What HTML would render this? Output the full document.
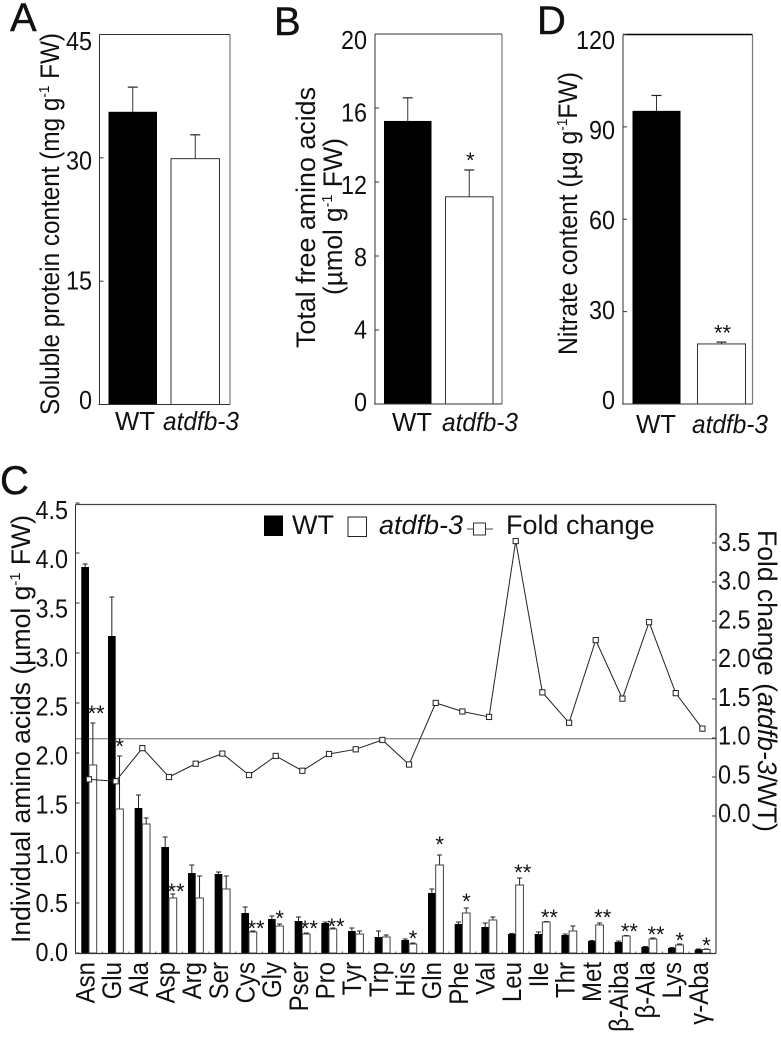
<!DOCTYPE html>
<html lang="en">
<head>
<meta charset="utf-8">
<title>Amino acid and nitrate content in WT and atdfb-3</title>
<style>
html,body{margin:0;padding:0;background:#fff;}
svg{display:block;}
text{font-family:"Liberation Sans",sans-serif;fill:#111;}
.tick{font-size:26px;}
.title{font-size:27px;}
.letter{font-size:40px;stroke:#111;stroke-width:.4px;}
.cat{font-size:27px;}
.xl{font-size:26px;text-anchor:middle;}
.leg{font-size:27px;}
.star{font-size:22px;text-anchor:middle;}
</style>
</head>
<body>
<svg id="fig" xmlns="http://www.w3.org/2000/svg" width="781" height="1037" viewBox="0 0 781 1037">
  <rect x="0" y="0" width="781" height="1037" fill="#fff"/>

  <text class="letter" x="10" y="31">A</text>
  <text class="letter" x="274" y="35">B</text>
  <text class="letter" x="537" y="34">D</text>
  <text class="letter" x="0" y="494">C</text>

  <text class="title" transform="translate(59,415) rotate(-90)" textLength="382" lengthAdjust="spacingAndGlyphs">Soluble protein content (mg g<tspan font-size="15" dy="-10">-1</tspan><tspan dy="10"> FW)</tspan></text>
  <text class="title" transform="translate(315,348) rotate(-90)" textLength="261" lengthAdjust="spacingAndGlyphs">Total free amino acids</text>
  <text class="title" transform="translate(342,295) rotate(-90)" textLength="157" lengthAdjust="spacingAndGlyphs">(µmol g<tspan font-size="15" dy="-10">-1</tspan><tspan dy="10"> FW)</tspan></text>
  <text class="title" transform="translate(577,355) rotate(-90)" textLength="283" lengthAdjust="spacingAndGlyphs">Nitrate content (µg g<tspan font-size="15" dy="-10">-1</tspan><tspan dy="10">FW)</tspan></text>
  <text class="title" transform="translate(30,943) rotate(-90)" textLength="428" lengthAdjust="spacingAndGlyphs">Individual amino acids (µmol g<tspan font-size="15" dy="-10">-1</tspan><tspan dy="10"> FW)</tspan></text>
  <text class="title" transform="translate(758,530) rotate(90)" textLength="302" lengthAdjust="spacingAndGlyphs">Fold change (<tspan font-style="italic">atdfb-3</tspan>/WT)</text>

  <text class="xl" x="135" y="430" textLength="40" lengthAdjust="spacingAndGlyphs">WT</text>
  <text class="xl" x="201" y="430" font-style="italic" textLength="76" lengthAdjust="spacingAndGlyphs">atdfb-3</text>
  <text class="xl" x="412" y="431" textLength="40" lengthAdjust="spacingAndGlyphs">WT</text>
  <text class="xl" x="480" y="431" font-style="italic" textLength="76" lengthAdjust="spacingAndGlyphs">atdfb-3</text>
  <text class="xl" x="656" y="433" textLength="40" lengthAdjust="spacingAndGlyphs">WT</text>
  <text class="xl" x="730" y="433" font-style="italic" textLength="76" lengthAdjust="spacingAndGlyphs">atdfb-3</text>

  <g>
    <rect x="264" y="515.5" width="19" height="20.5" fill="#000"/>
    <text class="leg" x="292" y="534">WT</text>
    <rect x="348" y="517" width="18.5" height="19.5" fill="#fff" stroke="#222" stroke-width="1"/>
    <text class="leg" x="379" y="534" font-style="italic">atdfb-3</text>
    <line x1="467" y1="529" x2="493" y2="529" stroke="#444" stroke-width="1"/>
    <rect x="473.5" y="523" width="12" height="12" fill="#fff" stroke="#333" stroke-width="1"/>
    <text class="leg" x="506" y="534">Fold change</text>
  </g>

  <g id="panelA"></g>
  <g id="panelB"></g>
  <g id="panelD"></g>
  <g id="panelC"></g>
</svg>

<script>
// Panel A: soluble protein
const panelAValues = [35.6, 29.9];
const panelAErrorTops = [38.6, 32.8];
const panelATicks = [0, 15, 30, 45];
const panelAStars = ['', ''];
const panelAStarLevels = [0, 0];

// Panel B: total free amino acids
const panelBValues = [15.3, 11.2];
const panelBErrorTops = [16.55, 12.65];
const panelBTicks = [0, 4, 8, 12, 16, 20];
const panelBStars = ['', '*'];
const panelBStarLevels = [0, 13.4];

// Panel D: nitrate
const panelDValues = [95.2, 19.5];
const panelDErrorTops = [100.2, 20.1];
const panelDTicks = [0, 30, 60, 90, 120];
const panelDStars = ['', '**'];
const panelDStarLevels = [0, 24.6];

// Panel C: individual amino acids
const aminoAcids = ['Asn','Glu','Ala','Asp','Arg','Ser','Cys','Gly','Pser','Pro','Tyr','Trp','His','Gln','Phe','Val','Leu','Ile','Thr','Met','β-Aiba','β-Ala','Lys','γ-Aba'];
const wtValues = [3.86,3.17,1.45,1.06,0.80,0.79,0.40,0.34,0.32,0.30,0.22,0.16,0.13,0.60,0.29,0.26,0.19,0.19,0.18,0.12,0.11,0.06,0.05,0.035];
const wtErrorTops = [3.89,3.56,1.58,1.16,0.88,0.81,0.46,0.37,0.36,0.31,0.25,0.22,0.14,0.64,0.31,0.30,0.195,0.21,0.19,0.125,0.12,0.065,0.055,0.04];
const mutantValues = [1.88,1.44,1.29,0.55,0.55,0.64,0.21,0.27,0.19,0.24,0.19,0.16,0.09,0.88,0.40,0.33,0.68,0.31,0.22,0.28,0.17,0.14,0.08,0.035];
const mutantErrorTops = [2.30,1.97,1.35,0.59,0.77,0.77,0.22,0.29,0.20,0.25,0.22,0.18,0.10,0.98,0.45,0.36,0.75,0.315,0.27,0.30,0.175,0.15,0.09,0.04];
const foldChange = [0.47,0.445,0.87,0.50,0.67,0.80,0.525,0.77,0.58,0.795,0.855,0.975,0.66,1.45,1.34,1.27,3.525,1.585,1.195,2.255,1.505,2.485,1.575,1.12];
const significance = ['**','*','','**','','','**','*','**','**','','','*','*','*','','**','**','','**','**','**','*','*'];
const starLevels = [2.44,2.11,0,0.66,0,0,0.29,0.39,0.29,0.31,0,0,0.19,1.13,0.56,0,0.85,0.40,0,0.40,0.26,0.23,0.17,0.12];
const leftTicks = [0,0.5,1,1.5,2,2.5,3,3.5,4,4.5];
const rightTicks = [0,0.5,1,1.5,2,2.5,3,3.5];
const foldReference = [0.99];

const SVGNS = 'http://www.w3.org/2000/svg';
function make(tag, attrs, parent, text) {
  const el = document.createElementNS(SVGNS, tag);
  for (const k in attrs) el.setAttribute(k, attrs[k]);
  if (text !== undefined) el.textContent = text;
  parent.appendChild(el);
  return el;
}
function segment(parent, x1, y1, x2, y2, color, width) {
  return make('line', {x1:x1, y1:y1, x2:x2, y2:y2, stroke:color, 'stroke-width':width}, parent);
}
function fmt(v) { return v.toFixed(1); }

function drawPanel(p) {
  const g = document.getElementById(p.id);
  const y = v => p.bottom - (v - 0) * (p.bottom - p.top) / p.max;
  const labelY = v => p.labelZero - v * p.labelStep + 9;
  const barX = i => p.firstBar + i * p.barStep;

  let el = make('rect', {x:p.left, y:p.top, width:p.right - p.left, height:p.bottom - p.top, fill:'#fff', stroke:'none'}, g);
  
  

  p.values.forEach((v, i) => {
    const cx = barX(i) + p.barW / 2;
    const stem = segment(g, cx, y(v), cx, y(p.errs[i]), '#333', 1);
    
    
    const cap = segment(g, cx - 5, y(p.errs[i]), cx + 5, y(p.errs[i]), '#222', 1.2);
    
    
    const bar = i === 0
      ? make('rect', {x:barX(i), y:y(v), width:p.barW, height:y(0) - y(v), fill:'#000'}, g)
      : make('rect', {x:barX(i), y:y(v), width:p.barW, height:y(0) - y(v), fill:'#fff', stroke:'#333', 'stroke-width':1}, g);
    
    
    if (p.stars[i]) {
      const star = make('text', {class:'star', x:cx + 1, y:y(p.starLevels[i]) + 12}, g, p.stars[i]);
      
      
    }
  });

  const sTop = segment(g, p.left, p.top, p.right, p.top, p.topColor, p.topWidth);
  
  
  const sRight = segment(g, p.right, p.top, p.right, p.bottom, '#777', 1.2);
  
  
  const sLeft = segment(g, p.left, p.top, p.left, p.bottom, '#333', 1);
  
  
  const sBottom = segment(g, p.left - 1, p.bottom, p.right, p.bottom, '#333', 1);
  
  

  p.ticks.forEach(t => {
    const tk = segment(g, p.left, y(t), p.left + 4, y(t), '#333', 1);
    
    
    const lb = make('text', {class:'tick', transform:'translate(' + p.labelX + ',' + labelY(t) + ') scale(.9,1)', 'text-anchor':'end'}, g, String(t));
    
    
  });
}

drawPanel({id:'panelA', name:'panel-a', values:panelAValues, errs:panelAErrorTops, ticks:panelATicks, stars:panelAStars, starLevels:panelAStarLevels,
  max:45, left:99.5, right:230, top:34.5, bottom:404.5, firstBar:108.5, barStep:62.5, barW:48.5, labelX:92, labelZero:400, labelStep:7.98, topColor:'#333', topWidth:1});
drawPanel({id:'panelB', name:'panel-b', values:panelBValues, errs:panelBErrorTops, ticks:panelBTicks, stars:panelBStars, starLevels:panelBStarLevels,
  max:20, left:375, right:502, top:34, bottom:404, firstBar:384, barStep:61.5, barW:47.5, labelX:367, labelZero:402, labelStep:18.1, topColor:'#333', topWidth:1});
drawPanel({id:'panelD', name:'panel-d', values:panelDValues, errs:panelDErrorTops, ticks:panelDTicks, stars:panelDStars, starLevels:panelDStarLevels,
  max:120, left:623, right:752.5, top:34.5, bottom:404, firstBar:632.5, barStep:65, barW:48, labelX:615, labelZero:400, labelStep:3, topColor:'#000', topWidth:1.6});

// Panel C
(function () {
  const g = document.getElementById('panelC');
  const plotLeft = 75.5, plotRight = 716, plotTop = 504.5, plotBottom = 953.5;
  const yLeft = v => 953 - v * 100;
  const yRight = v => 816 - v * 78;
  const labelLeftY = v => 952 - v * 98.2 + 9;
  const labelRightY = v => 813 - v * 77.5 + 9;
  const groupX = i => 89 + i * 26.67;
  const barW = 7.7;

  const refLine = segment(g, plotLeft, yRight(foldReference[0]), plotRight, yRight(foldReference[0]), '#666', 1);
  
  

  aminoAcids.forEach((name, i) => {
    const x0 = groupX(i);
    const stemWt = segment(g, x0 - barW / 2, yLeft(wtValues[i]), x0 - barW / 2, yLeft(wtErrorTops[i]), '#222', 1);
    
    
    const capWt = segment(g, x0 - barW / 2 - 2.5, yLeft(wtErrorTops[i]), x0 - barW / 2 + 2.5, yLeft(wtErrorTops[i]), '#222', 1);
    
    
    const stemMut = segment(g, x0 + barW / 2, yLeft(mutantValues[i]), x0 + barW / 2, yLeft(mutantErrorTops[i]), '#222', 1);
    
    
    const capMut = segment(g, x0 + barW / 2 - 2.5, yLeft(mutantErrorTops[i]), x0 + barW / 2 + 2.5, yLeft(mutantErrorTops[i]), '#222', 1);
    
    

    const wt = make('rect', {x:x0 - barW, y:yLeft(wtValues[i]), width:barW, height:yLeft(0) - yLeft(wtValues[i]), fill:'#000'}, g);
    
    
    const mut = make('rect', {x:x0, y:yLeft(mutantValues[i]), width:barW, height:yLeft(0) - yLeft(mutantValues[i]), fill:'#fff', stroke:'#444', 'stroke-width':1}, g);
    
    

    const minor = segment(g, x0 + 13.3, plotBottom, x0 + 13.3, plotBottom - 2, '#555', 1);
    
    

    const label = make('text', {class:'cat', 'text-anchor':'end', transform:'translate(' + (x0 + 5.5) + ',962) rotate(-90) scale(.89,1)'}, g, name);
    
    

    if (significance[i]) {
      const offset = significance[i].length === 2 ? 7 : 4;
      const star = make('text', {class:'star', x:x0 + offset, y:yLeft(starLevels[i]) + 12}, g, significance[i]);
      
      
    }
  });

  const pts = foldChange.map((v, i) => groupX(i) + ',' + yRight(v)).join(' ');
  const line = make('polyline', {points:pts, fill:'none', stroke:'#222', 'stroke-width':1}, g);
  
  
  foldChange.forEach((v, i) => {
    const m = make('rect', {x:groupX(i) - 2.6, y:yRight(v) - 2.6, width:5.2, height:5.2, fill:'#fff', stroke:'#222', 'stroke-width':1}, g);
    
    
  });

  const top = segment(g, plotLeft, plotTop, plotRight, plotTop, '#444', 1.2);
  
  
  const left = segment(g, plotLeft, plotTop, plotLeft, plotBottom, '#333', 1);
  
  
  const right = segment(g, plotRight, plotTop, plotRight, plotBottom, '#444', 1.2);
  
  
  const bottom = segment(g, plotLeft, plotBottom, plotRight, plotBottom, '#333', 1.2);
  
  

  leftTicks.forEach(t => {
    const tk = segment(g, plotLeft, yLeft(t), plotLeft + 4, yLeft(t), '#333', 1);
    
    
    const lb = make('text', {class:'tick', transform:'translate(68,' + labelLeftY(t) + ') scale(.9,1)', 'text-anchor':'end'}, g, fmt(t));
    
    
  });
  rightTicks.forEach(t => {
    const tk = segment(g, plotRight - 4, yRight(t), plotRight, yRight(t), '#333', 1);
    
    
    const lb = make('text', {class:'tick', transform:'translate(718,' + labelRightY(t) + ') scale(.9,1)', 'text-anchor':'start'}, g, fmt(t));
    
    
  });
})();
</script>
</body>
</html>
